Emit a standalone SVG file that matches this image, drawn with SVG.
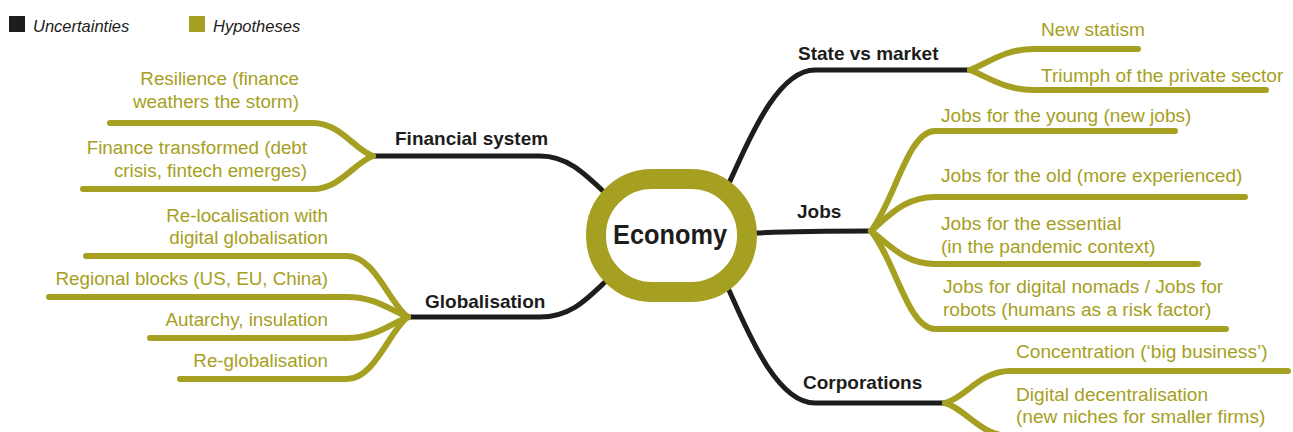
<svg xmlns="http://www.w3.org/2000/svg" width="1293" height="432" viewBox="0 0 1293 432">
<style>
.unc{stroke:#1d1d1b;stroke-width:5;fill:none;stroke-linecap:round}
.hyp{stroke:#a6a022;stroke-width:6;fill:none;stroke-linecap:round}
.ht{font-family:"Liberation Sans",Arial,sans-serif;font-size:18.8px;fill:#a6a022}
.ht.r{text-anchor:end}
.ht.w{font-size:19.1px}
.ut{font-family:"Liberation Sans",Arial,sans-serif;font-weight:bold;font-size:19px;fill:#1d1d1b}
.lg{font-family:"Liberation Sans",Arial,sans-serif;font-style:italic;font-size:16.5px;fill:#1d1d1b}
</style>
<rect width="1293" height="432" fill="#ffffff"/>
<g id="legend">
  <rect x="9" y="16" width="16" height="16" fill="#1d1d1b"/>
  <text class="lg" x="33" y="32">Uncertainties</text>
  <rect x="189" y="16" width="16" height="16" fill="#a6a022"/>
  <text class="lg" x="213" y="32">Hypotheses</text>
</g>
<g id="connectors">
  <path class="unc" d="M603,191 C583,172 566,156 540,156 L373,156"/>
  <path class="unc" d="M605,282 C586,300 570,317 540,317 L408,317"/>
  <path class="unc" d="M729,183 C745,150 775,70 815,70 L970,70"/>
  <path class="unc" d="M756,233 C800,231 830,231 871,231"/>
  <path class="unc" d="M728,288 C745,325 775,403 815,403 L945,403"/>
  <path class="hyp" d="M373,156 C355,150 340,123 313,123 L110,123"/>
  <path class="hyp" d="M373,156 C355,162 340,189 313,189 L83,189"/>
  <path class="hyp" d="M408,317 C390,305 375,256 347,256 L86,256"/>
  <path class="hyp" d="M408,317 C390,310 375,297 347,297 L49,297"/>
  <path class="hyp" d="M408,317 C390,324 375,338 347,338 L150,338"/>
  <path class="hyp" d="M408,317 C390,329 375,379 347,379 L180,379"/>
  <path class="hyp" d="M970,70 C988,63 1005,49 1033,49 L1138,49"/>
  <path class="hyp" d="M970,70 C988,77 1005,90 1033,90 L1266,90"/>
  <path class="hyp" d="M871,231 C895,200 908,131 935,131 L1175,131"/>
  <path class="hyp" d="M871,231 C890,215 905,197 935,197 L1245,197"/>
  <path class="hyp" d="M871,231 C890,245 905,264 935,264 L1198,264"/>
  <path class="hyp" d="M871,231 C895,260 908,329 935,329 L1226,329"/>
  <path class="hyp" d="M945,403 C965,398 980,371 1010,371 L1288,371"/>
  <path class="hyp" d="M945,403 C965,408 980,436 1010,436 L1292,436"/>
</g>
<g id="economy">
  <rect x="596" y="179" width="151" height="113" rx="56" ry="56" fill="#ffffff" stroke="#a6a022" stroke-width="20"/>
  <text x="670" y="244" text-anchor="middle" font-family="Liberation Sans, Arial, sans-serif" font-weight="bold" font-size="28" fill="#1d1d1b" textLength="114" lengthAdjust="spacingAndGlyphs">Economy</text>
</g>
<g id="financial-system"><text class="ut" x="395" y="145">Financial system</text></g>
<g id="globalisation"><text class="ut" x="425" y="308">Globalisation</text></g>
<g id="state-vs-market"><text class="ut" x="798" y="60">State vs market</text></g>
<g id="jobs"><text class="ut" x="797" y="218">Jobs</text></g>
<g id="corporations"><text class="ut" x="803" y="389">Corporations</text></g>
<g id="h-resilience"><text class="ht r" x="299" y="85">Resilience (finance</text><text class="ht r" x="299" y="108">weathers the storm)</text></g>
<g id="h-finance-transformed"><text class="ht r" x="307" y="154">Finance transformed (debt</text><text class="ht r" x="307" y="177">crisis, fintech emerges)</text></g>
<g id="h-relocalisation"><text class="ht r" x="328" y="222">Re-localisation with</text><text class="ht r" x="328" y="244">digital globalisation</text></g>
<g id="h-regional-blocks"><text class="ht r" x="328" y="285">Regional blocks (US, EU, China)</text></g>
<g id="h-autarchy"><text class="ht r" x="328" y="326">Autarchy, insulation</text></g>
<g id="h-reglobalisation"><text class="ht r" x="328" y="367">Re-globalisation</text></g>
<g id="h-new-statism"><text class="ht w" x="1041" y="36">New statism</text></g>
<g id="h-triumph"><text class="ht w" x="1041" y="82">Triumph of the private sector</text></g>
<g id="h-jobs-young"><text class="ht w" x="941" y="122">Jobs for the young (new jobs)</text></g>
<g id="h-jobs-old"><text class="ht w" x="941" y="182">Jobs for the old (more experienced)</text></g>
<g id="h-jobs-essential"><text class="ht w" x="941" y="230">Jobs for the essential</text><text class="ht w" x="941" y="253">(in the pandemic context)</text></g>
<g id="h-jobs-nomads"><text class="ht w" x="943" y="293">Jobs for digital nomads / Jobs for</text><text class="ht w" x="943" y="316">robots (humans as a risk factor)</text></g>
<g id="h-concentration"><text class="ht w" x="1016" y="358">Concentration (‘big business’)</text></g>
<g id="h-decentralisation"><text class="ht w" x="1016" y="401">Digital decentralisation</text><text class="ht w" x="1016" y="423">(new niches for smaller firms)</text></g>
</svg>
